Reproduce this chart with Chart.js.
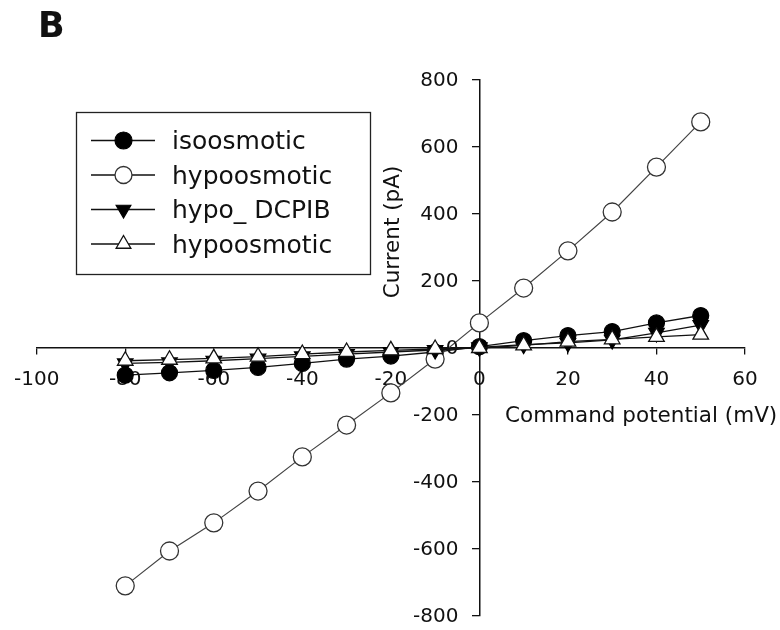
<!DOCTYPE html>
<html>
<head>
<meta charset="utf-8">
<script src="https://cdn.jsdelivr.net/npm/chart.js@4/dist/chart.umd.min.js"></script>
<style>
  html, body { margin: 0; padding: 0; background: #fff; }
  #wrap { width: 780px; height: 630px; }
</style>
</head>
<body>
<div id="wrap"><canvas id="iv" width="780" height="630"></canvas></div>
<script>
// Command potential steps (mV)
const potentials = [-80, -70, -60, -50, -40, -30, -20, -10, 0, 10, 20, 30, 40, 50];

// Whole-cell current (pA) at each step
const isoosmotic  = [-81, -74, -67, -58, -46, -33, -24, -12, 4, 22, 37, 49, 75, 97];
const hypoosmotic = [-710, -606, -522, -427, -325, -230, -134, -33, 75, 179, 290, 406, 540, 675];
const hypoDCPIB   = [-46, -43, -38, -32, -25, -18, -12, -6, 2, 10, 15, 24, 45, 68];
const hypoosmotic2 = [-38, -35, -31, -26, -18, -12, -7, -3, 0, 8, 19, 26, 33, 40];

const seriesNames = ['isoosmotic', 'hypoosmotic', 'hypo_ DCPIB', 'hypoosmotic'];

const xTitle = 'Command potential (mV)';
const yTitle = 'Current (pA)';
const panelLetter = 'B';

const FONT = "'DejaVu Sans', 'Liberation Sans', sans-serif";
const INK = '#111';
const Y_TICK_LEN = 7;
const Y_TICK_PAD = 14;

function pts(ys) {
  return potentials.map((x, i) => ({ x: x, y: ys[i] }));
}

const datasets = [
  {
    label: seriesNames[0], data: pts(isoosmotic),
    borderColor: '#111', borderWidth: 1.3,
    pointStyle: 'circle', pointRadius: 8, pointRotation: 0,
    pointBackgroundColor: '#000', pointBorderColor: '#000', pointBorderWidth: 1.2,
    order: 4
  },
  {
    label: seriesNames[1], data: pts(hypoosmotic),
    borderColor: '#444', borderWidth: 1.2,
    pointStyle: 'circle', pointRadius: 9, pointRotation: 0,
    pointBackgroundColor: '#fff', pointBorderColor: '#333', pointBorderWidth: 1.3,
    order: 3
  },
  {
    label: seriesNames[2], data: pts(hypoDCPIB),
    borderColor: '#111', borderWidth: 1.3,
    pointStyle: 'triangle', pointRadius: 9, pointRotation: 180,
    pointBackgroundColor: '#000', pointBorderColor: '#000', pointBorderWidth: 1.2,
    order: 2
  },
  {
    label: seriesNames[3], data: pts(hypoosmotic2),
    borderColor: '#111', borderWidth: 1.3,
    pointStyle: 'triangle', pointRadius: 9, pointRotation: 0,
    pointBackgroundColor: '#fff', pointBorderColor: '#111', pointBorderWidth: 1.3,
    order: 1
  }
];
datasets.forEach(d => { d.showLine = true; d.fill = false; d.tension = 0; });

// Draws a marker in the same style the datasets use
function marker(ctx, style, r, rot, x, y) {
  ctx.beginPath();
  if (style === 'circle') {
    ctx.arc(x, y, r, 0, Math.PI * 2);
  } else {
    const a = rot * Math.PI / 180;
    for (let k = 0; k < 3; k++) {
      const t = a + k * 2 * Math.PI / 3;
      const px = x + Math.sin(t) * r, py = y - Math.cos(t) * r;
      k ? ctx.lineTo(px, py) : ctx.moveTo(px, py);
    }
    ctx.closePath();
  }
  ctx.fill();
  ctx.stroke();
}

const decorations = {
  id: 'decorations',
  afterDraw(chart) {
    const ctx = chart.ctx;
    const xs = chart.scales.x, ys = chart.scales.y;
    ctx.save();
    ctx.fillStyle = INK;

    // y tick labels, left of the axis that crosses at x = 0
    const axisX = xs.getPixelForValue(0);
    ctx.font = '20px ' + FONT;
    ctx.textAlign = 'right';
    ctx.textBaseline = 'middle';
    ys.ticks.forEach(t => {
      ctx.fillText(String(t.value), axisX - Y_TICK_LEN - Y_TICK_PAD, ys.getPixelForValue(t.value) + 1);
    });

    // panel letter
    ctx.font = 'bold 35px ' + FONT;
    ctx.textAlign = 'left';
    ctx.textBaseline = 'alphabetic';
    ctx.fillText(panelLetter, 38, 37);

    // x axis title
    ctx.font = '21.5px ' + FONT;
    ctx.fillText(xTitle, 505, 422);

    // y axis title
    ctx.save();
    ctx.translate(399, 232);
    ctx.rotate(-Math.PI / 2);
    ctx.textAlign = 'center';
    ctx.fillText(yTitle, 0, 0);
    ctx.restore();

    // legend box
    ctx.strokeStyle = '#222';
    ctx.lineWidth = 1.3;
    ctx.strokeRect(76.5, 112.5, 294, 162);

    chart.data.datasets.forEach((ds, i) => {
      const cy = 140.5 + i * 34.5;
      ctx.strokeStyle = '#111';
      ctx.lineWidth = 1.3;
      ctx.beginPath();
      ctx.moveTo(91, cy);
      ctx.lineTo(155, cy);
      ctx.stroke();

      ctx.fillStyle = ds.pointBackgroundColor;
      ctx.strokeStyle = ds.pointBorderColor;
      ctx.lineWidth = ds.pointBorderWidth;
      marker(ctx, ds.pointStyle, 8.5, ds.pointRotation, 123.5, cy);

      ctx.fillStyle = INK;
      ctx.font = '25px ' + FONT;
      ctx.textAlign = 'left';
      ctx.textBaseline = 'alphabetic';
      ctx.fillText(ds.label, 172, cy + 8.5);
    });
    ctx.restore();
  }
};

new Chart(document.getElementById('iv'), {
  type: 'scatter',
  data: { datasets: datasets },
  options: {
    responsive: false,
    animation: false,
    events: [],
    layout: { padding: { left: 36, right: 35, top: 80, bottom: 14 } },
    plugins: { legend: { display: false }, tooltip: { enabled: false } },
    scales: {
      x: {
        type: 'linear', min: -100, max: 60,
        position: { y: 0 },
        ticks: { stepSize: 20, color: INK, font: { family: FONT, size: 20 }, padding: 14, maxRotation: 0 },
        grid: { display: true, drawOnChartArea: false, drawTicks: true, tickLength: 6, color: '#111', lineWidth: 1.3 },
        border: { display: true, color: '#111', width: 1.5 }
      },
      y: {
        type: 'linear', min: -800, max: 800,
        position: { x: 0 },
        ticks: { stepSize: 200, display: false, font: { family: FONT, size: 20 } },
        grid: { display: true, drawOnChartArea: false, drawTicks: true, tickLength: Y_TICK_LEN, color: '#111', lineWidth: 1.3 },
        border: { display: true, color: '#111', width: 1.5 }
      }
    }
  },
  plugins: [decorations]
});
</script>
</body>
</html>
